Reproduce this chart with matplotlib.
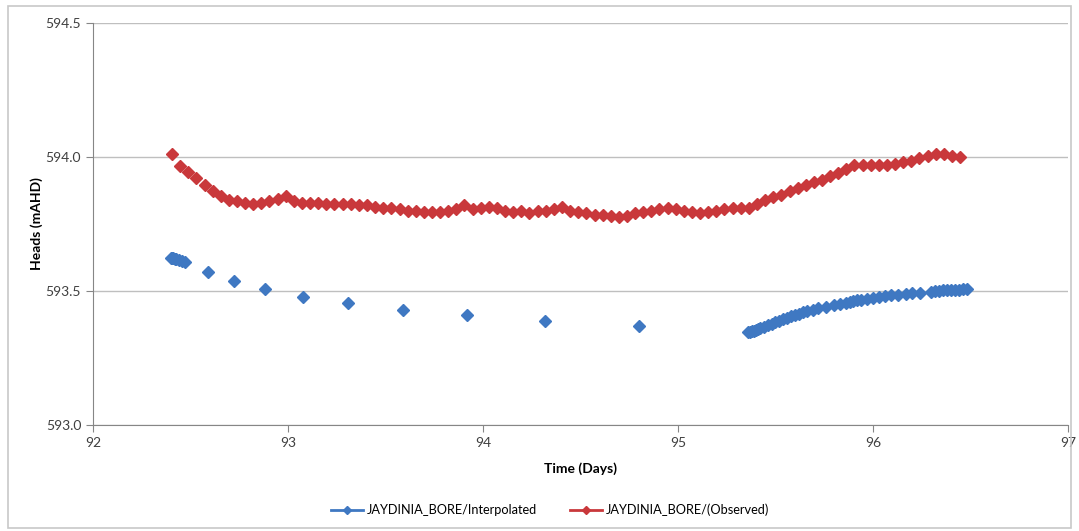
import matplotlib
matplotlib.use('Agg')
from matplotlib import pyplot as plt
from matplotlib.lines import Line2D
from matplotlib.patches import Rectangle

# observed heads, hourly readings
obs_time = [92.405, 92.447, 92.488, 92.530, 92.572, 92.613, 92.655, 92.697, 92.738, 92.780,
            92.822, 92.863, 92.905, 92.947, 92.988, 93.030, 93.072, 93.113, 93.155, 93.197,
            93.238, 93.280, 93.322, 93.363, 93.405, 93.447, 93.488, 93.530, 93.572, 93.613,
            93.655, 93.697, 93.738, 93.780, 93.822, 93.863, 93.905, 93.947, 93.988, 94.030,
            94.072, 94.113, 94.155, 94.197, 94.238, 94.280, 94.322, 94.363, 94.405, 94.447,
            94.488, 94.530, 94.572, 94.613, 94.655, 94.697, 94.738, 94.780, 94.822, 94.863,
            94.905, 94.947, 94.988, 95.030, 95.072, 95.113, 95.155, 95.197, 95.238, 95.280,
            95.322, 95.363, 95.405, 95.447, 95.488, 95.530, 95.572, 95.613, 95.655, 95.697,
            95.738, 95.780, 95.822, 95.863, 95.905, 95.947, 95.988, 96.030, 96.072, 96.113,
            96.155, 96.197, 96.238, 96.280, 96.322, 96.363, 96.405, 96.447]
obs_head = [594.010, 593.965, 593.945, 593.920, 593.895, 593.875, 593.855, 593.840, 593.835, 593.830,
            593.825, 593.830, 593.835, 593.845, 593.855, 593.835, 593.830, 593.830, 593.830, 593.825,
            593.825, 593.825, 593.825, 593.820, 593.820, 593.815, 593.810, 593.810, 593.805, 593.800,
            593.800, 593.795, 593.795, 593.795, 593.800, 593.805, 593.820, 593.805, 593.810, 593.815,
            593.810, 593.800, 593.795, 593.800, 593.790, 593.800, 593.800, 593.805, 593.815, 593.800,
            593.795, 593.790, 593.785, 593.785, 593.780, 593.775, 593.780, 593.790, 593.795, 593.800,
            593.805, 593.810, 593.805, 593.800, 593.795, 593.790, 593.795, 593.800, 593.805, 593.810,
            593.810, 593.810, 593.825, 593.840, 593.850, 593.860, 593.875, 593.885, 593.895, 593.905,
            593.915, 593.930, 593.940, 593.955, 593.970, 593.970, 593.970, 593.970, 593.970, 593.975,
            593.980, 593.985, 593.995, 594.005, 594.010, 594.010, 594.005, 594.000]

# interpolated (model) heads
int_time = [92.400, 92.405, 92.410, 92.418, 92.428, 92.440, 92.455, 92.472, 92.588, 92.723,
            92.882, 93.075, 93.306, 93.590, 93.920, 94.320, 94.800,
            95.360, 95.370, 95.380, 95.390, 95.400, 95.410, 95.420, 95.440, 95.460, 95.480,
            95.500, 95.520, 95.540, 95.560, 95.580, 95.600, 95.620, 95.640, 95.660, 95.690,
            95.720, 95.760, 95.800, 95.830, 95.860, 95.880, 95.900, 95.920, 95.940, 95.970,
            96.000, 96.030, 96.060, 96.090, 96.130, 96.170, 96.200, 96.240, 96.300, 96.320,
            96.340, 96.360, 96.380, 96.400, 96.420, 96.440, 96.460, 96.480]
int_head = [593.624, 593.623, 593.622, 593.620, 593.618, 593.615, 593.612, 593.607, 593.572, 593.537,
            593.506, 593.479, 593.454, 593.430, 593.410, 593.390, 593.369,
            593.347, 593.348, 593.350, 593.352, 593.355, 593.358, 593.361, 593.366, 593.372, 593.378,
            593.384, 593.390, 593.396, 593.401, 593.406, 593.411, 593.416, 593.420, 593.424, 593.430,
            593.436, 593.442, 593.448, 593.453, 593.457, 593.460, 593.463, 593.466, 593.468, 593.472,
            593.475, 593.478, 593.481, 593.484, 593.487, 593.490, 593.492, 593.494, 593.498, 593.500,
            593.501, 593.502, 593.503, 593.504, 593.504, 593.505, 593.506, 593.507]

x_ticks = [92, 93, 94, 95, 96, 97]
y_ticks = [593.0, 593.5, 594.0, 594.5]
series_names = ['JAYDINIA_BORE/Interpolated', 'JAYDINIA_BORE/(Observed)']

blue = '#3F78C2'
red = '#C9383B'
axis_grey = '#868686'
grid_grey = '#BFBFBF'

plt.rcParams['font.family'] = ['Lato', 'DejaVu Sans']

fig = plt.figure(figsize=(10.79, 5.31), dpi=100)
fig.patches.append(Rectangle((0.007, 0.006), 0.986, 0.983, transform=fig.transFigure,
                             fill=False, edgecolor='#C8C8C8', linewidth=1.2))

ax = fig.add_axes([0.0862, 0.1996, 0.9036, 0.757])

ax.plot(int_time, int_head, linestyle='', marker='D', markersize=6.5, color=blue)
ax.plot(obs_time, obs_head, linestyle='', marker='D', markersize=6.5, color=red)

ax.set_xlim(92, 97)
ax.set_ylim(593.0, 594.5)
ax.set_xticks(x_ticks)
ax.set_xticklabels([str(x) for x in x_ticks])
ax.set_yticks(y_ticks)
ax.set_yticklabels([f'{y:.1f}' for y in y_ticks])

ax.grid(True, axis='y', color=grid_grey, linewidth=1)
ax.set_axisbelow(True)
for side in ['top', 'right']:
    ax.spines[side].set_visible(False)
for side in ['left', 'bottom']:
    ax.spines[side].set_color(axis_grey)
ax.tick_params(colors=axis_grey, labelcolor='#404040', labelsize=10, length=5)

ax.set_xlabel('Time (Days)', fontsize=10, fontweight='bold', labelpad=10)
ax.set_ylabel('Heads (mAHD)', fontsize=10, fontweight='bold', labelpad=2)

handles = [Line2D([], [], color=blue, marker='D', markersize=4, linewidth=2),
           Line2D([], [], color=red, marker='D', markersize=4, linewidth=2)]
fig.legend(handles, series_names, loc='center', bbox_to_anchor=(0.51, 0.04), ncol=2,
           frameon=False, fontsize=9.2, handlelength=2.5, columnspacing=2.6, handletextpad=0.3)

fig.savefig('out.png')
